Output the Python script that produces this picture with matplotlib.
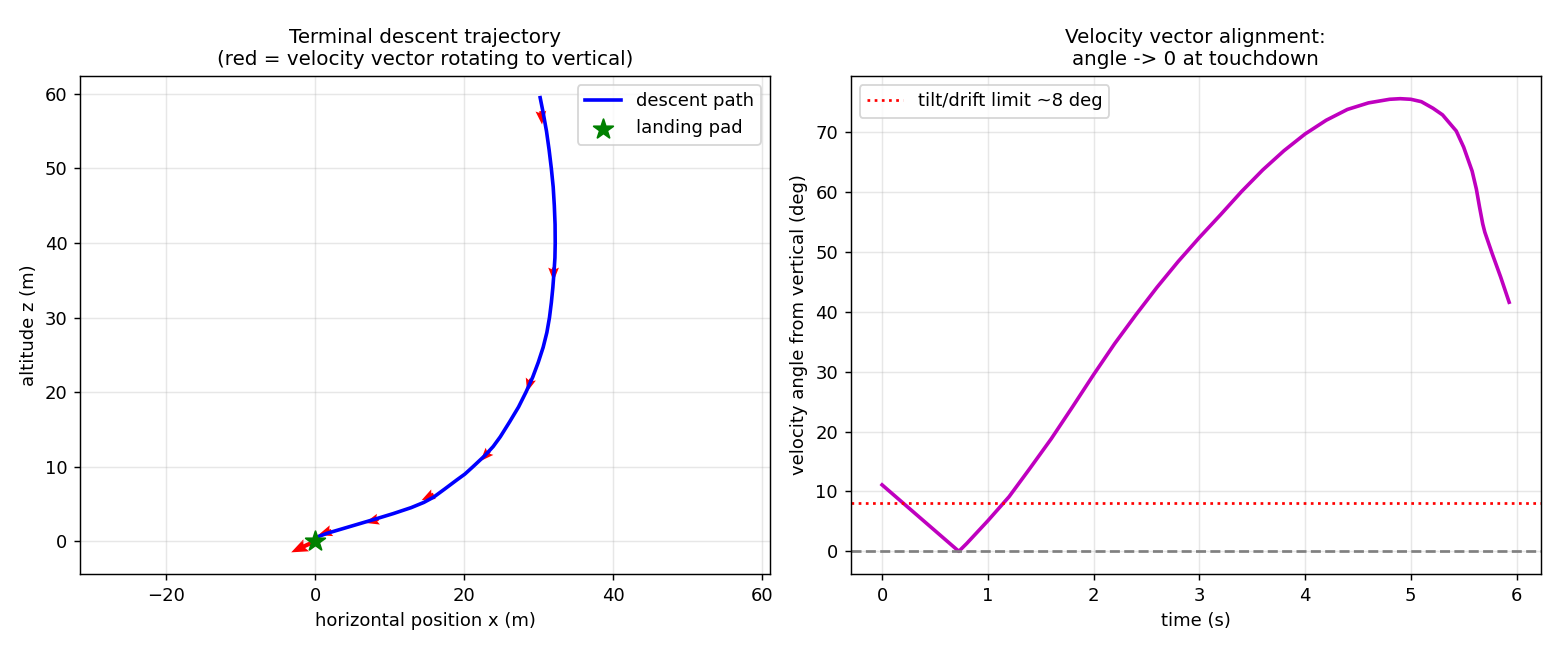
import numpy as np
import matplotlib
matplotlib.use("Agg")
import matplotlib.pyplot as plt

# descent path (m)
path_z = [59.5, 57.5, 55.0, 52.5, 50.0, 47.5, 45.0, 42.5, 40.0, 38.0, 36.0, 34.0, 32.0,
          30.0, 28.0, 26.0, 24.0, 22.0, 20.0, 18.0, 16.0, 14.0, 12.7, 11.5, 10.0, 9.0,
          8.2, 7.0, 5.9, 5.2, 4.5, 3.7, 3.0, 2.35, 1.7, 1.05, 0.75, 0.5]
path_x = [30.2, 30.6, 31.05, 31.4, 31.7, 31.95, 32.1, 32.2, 32.22, 32.18, 32.05, 31.9, 31.7,
          31.45, 31.1, 30.6, 29.95, 29.2, 28.3, 27.3, 26.1, 24.85, 23.9, 22.8, 21.2, 20.1,
          19.0, 17.4, 15.9, 14.6, 12.9, 10.5, 8.2, 6.0, 3.8, 1.6, 0.8, 0.1]

# velocity arrows (tail position and vector)
arrow_x = [30.3, 32.0, 28.95, 23.4, 15.9, 8.5, 2.2, 0.0]
arrow_z = [57.7, 36.7, 21.75, 12.05, 6.3, 2.95, 1.4, 0.0]
arrow_u = [0.15, 0.0, -0.5, -1.2, -1.6, -1.8, -1.8, -3.2]
arrow_w = [-1.8, -1.8, -1.7, -1.3, -0.8, -0.5, -0.6, -1.5]

pad_x, pad_z = 0.0, 0.0

# velocity angle from vertical vs time
t = [0.0, 0.726, 0.8, 1.0, 1.2, 1.4, 1.6, 1.8, 2.0, 2.2, 2.4, 2.6, 2.8, 3.0, 3.2, 3.4,
     3.6, 3.8, 4.0, 4.2, 4.4, 4.6, 4.8, 4.9, 5.0, 5.1, 5.21, 5.3, 5.43, 5.5, 5.55,
     5.58, 5.62, 5.65, 5.68, 5.7, 5.77, 5.85, 5.93]
angle = [11.1, 0.0, 1.3, 5.1, 9.1, 13.9, 18.8, 24.1, 29.5, 34.7, 39.5, 44.1, 48.4, 52.4,
         56.2, 60.1, 63.7, 66.9, 69.7, 72.0, 73.8, 74.9, 75.5, 75.6, 75.5, 75.1, 74.0,
         72.9, 70.2, 67.5, 65.0, 63.5, 60.5, 57.5, 54.7, 53.3, 49.7, 45.8, 41.6]

limit = 8.0

fig, (ax1, ax2) = plt.subplots(1, 2, figsize=(12, 5), dpi=130)

ax1.plot(path_x, path_z, 'b-', linewidth=2, label='descent path')
ax1.quiver(arrow_x, arrow_z, arrow_u, arrow_w, color='r', angles='xy', scale_units='xy',
           scale=1, width=0.006, headwidth=3.2, headlength=4, headaxislength=3.5)
ax1.scatter([pad_x], [pad_z], marker='*', s=130, color='g', zorder=5, label='landing pad')
ax1.set_xlim(-31.5, 61)
ax1.set_ylim(-4.4, 62.4)
ax1.set_aspect('equal', adjustable='datalim')
ax1.set_xlabel('horizontal position x (m)')
ax1.set_ylabel('altitude z (m)')
ax1.set_title('Terminal descent trajectory\n(red = velocity vector rotating to vertical)', fontsize=11)
ax1.legend(loc='upper right')
ax1.grid(True, alpha=0.3)

ax2.plot(t, angle, 'm-', linewidth=2)
ax2.axhline(limit, color='r', linestyle=':', linewidth=1.5, label='tilt/drift limit ~8 deg')
ax2.axhline(0, color='gray', linestyle='--', linewidth=1.5)
ax2.set_xlabel('time (s)')
ax2.set_ylabel('velocity angle from vertical (deg)')
ax2.set_title('Velocity vector alignment:\nangle -> 0 at touchdown', fontsize=11)
ax2.legend(loc='upper left')
ax2.grid(True, alpha=0.3)

plt.tight_layout()
plt.subplots_adjust(top=0.883, bottom=0.117)
plt.savefig('out.png')
